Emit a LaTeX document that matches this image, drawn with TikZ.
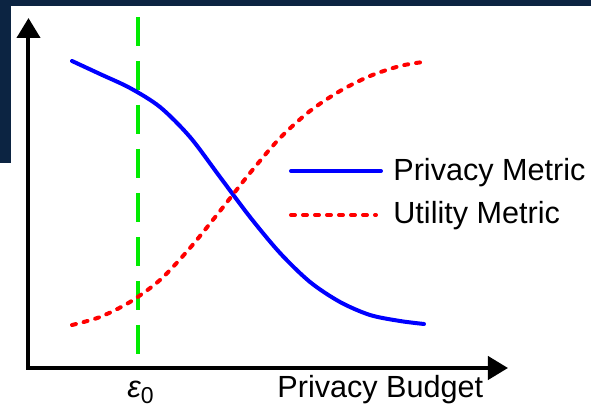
\documentclass[tikz,border=0pt]{standalone}
\usepackage{fontspec}
\setmainfont{Liberation Sans}
\usepackage{xcolor}
\usetikzlibrary{arrows.meta,positioning}
\definecolor{navy}{RGB}{12,36,66}
\definecolor{brightgreen}{RGB}{0,235,0}
\tikzset{
    axis/.style={line width=2pt, {Triangle[length=10pt,width=11.5pt]}-{Triangle[length=10pt,width=11.5pt]}},
    privacy/.style={blue, line width=2pt, line cap=round},
    utility/.style={red, line width=2pt, line cap=round, dash pattern=on 2pt off 4pt},
    epsline/.style={brightgreen, line width=2.2pt, dash pattern=on 14.5pt off 7.5pt},
    label/.style={inner sep=0pt, font=\fontsize{15.3}{17}\selectfont}
}

\begin{document}
\begin{tikzpicture}[x=0.5pt, y=-0.5pt]
                        \useasboundingbox (0, 0) rectangle (591, 407);
                        \fill[navy] (0, 0) rectangle (591, 6) (0, 0) rectangle (11, 163);
                        \coordinate (ytip) at (28.5, 18);
                        \coordinate (origin) at (28.5, 368);
                        \coordinate (xtip) at (508, 368);
                        \coordinate (epstop) at (138, 17);
                        \coordinate (epsbot) at (138, 357);
                        \draw[epsline] (epstop) -- (epsbot);
                        \draw[privacy] plot[smooth] coordinates {
                        (72, 61) (100, 74) (130, 88) (160, 107) (190, 137) (220, 177) (250, 217)
                        (280, 253) (310, 282) (340, 302) (370, 315) (400, 321) (424, 324)};
                        \draw[utility] plot[smooth] coordinates {
                        (72, 325) (100, 317) (130, 302) (160, 280) (190, 248) (220, 211) (250, 173)
                        (280, 138) (310, 111) (340, 91) (370, 76) (400, 66) (423, 62)};
                        \draw[axis] (ytip) -- (origin) -- (xtip);
                        \coordinate (pstart) at (291, 171);
                        \coordinate (pend) at (381, 171);
                        \coordinate (ustart) at (291, 215);
                        \coordinate (uend) at (376, 215);
                        \draw[privacy] (pstart) -- (pend);
                        \draw[utility] (ustart) -- (uend);
                        \node[label, anchor=base west] (privacylabel) at (393, 180) {Privacy Metric};
                        \node[label, anchor=base west] (utilitylabel) at (393, 223) {Utility Metric};
                        \node[label, anchor=base west] (budget) at (277, 398) {Privacy Budget};
                        \node[label, anchor=base west] (eps) at (127, 398) {\itshape ε\upshape\raisebox{-2.5pt}{\fontsize{11.5}{11.5}\selectfont 0}};
                    \end{tikzpicture}
\end{document}
